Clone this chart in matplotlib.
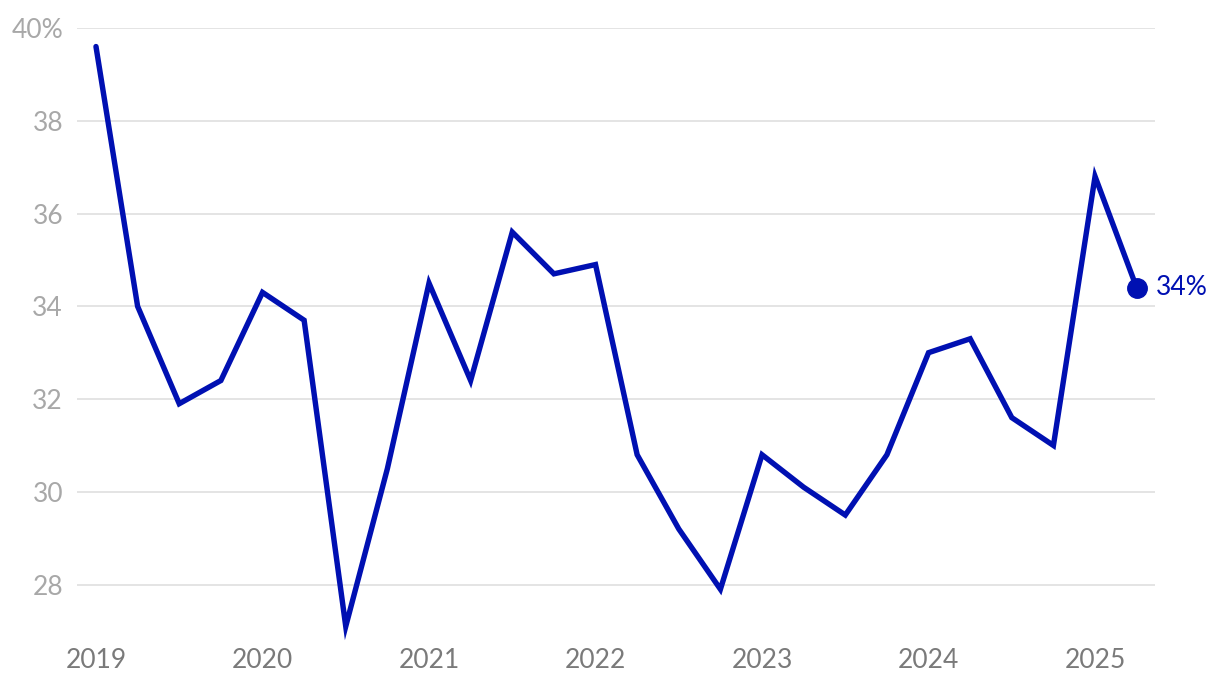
import matplotlib.pyplot as plt
from matplotlib.ticker import FuncFormatter

# quarterly values, 2019 Q1 .. 2025 Q2
years = [2019, 2020, 2021, 2022, 2023, 2024, 2025]
quarters = [2019 + i * 0.25 for i in range(26)]
values = [39.6, 34.0, 31.9, 32.4,
          34.3, 33.7, 27.1, 30.5,
          34.5, 32.4, 35.6, 34.7,
          34.9, 30.8, 29.2, 27.9,
          30.8, 30.1, 29.5, 30.8,
          33.0, 33.3, 31.6, 31.0,
          36.8, 34.4]
y_ticks = [28, 30, 32, 34, 36, 38, 40]

plt.rcParams['font.family'] = ['Lato', 'DejaVu Sans']
line_color = '#0010b2'

fig = plt.figure(figsize=(12.2, 6.84), dpi=100)
ax = fig.add_axes([77 / 1220, 1 - 631 / 684, (1155 - 77) / 1220, (631 - 28) / 684])

ax.plot(quarters, values, color=line_color, lw=3.9, solid_capstyle='round',
        solid_joinstyle='miter', zorder=3, clip_on=False)
ax.plot(quarters[-1], values[-1], 'o', color=line_color, ms=14, zorder=4, clip_on=False)
ax.annotate(f"{round(values[-1])}%", (quarters[-1], values[-1]),
            xytext=(14, 0), textcoords='offset points', va='center', ha='left',
            fontsize=19, color=line_color, annotation_clip=False)

ax.set_xlim(2018.886, 2025.36)
ax.set_ylim(27, 40)
ax.set_yticks(y_ticks)
ax.yaxis.set_major_formatter(FuncFormatter(lambda v, p: f"{v:.0f}%" if v == 40 else f"{v:.0f}"))
ax.set_xticks(years)
ax.set_xticklabels([str(y) for y in years])

ax.grid(axis='y', color='#e2e2e2', lw=1.3)
ax.set_axisbelow(True)
for s in ax.spines.values():
    s.set_visible(False)
ax.tick_params(axis='y', length=0, pad=10, labelsize=19, labelcolor='#a8a8a8')
ax.tick_params(axis='x', length=0, pad=12, labelsize=19, labelcolor='#7a7a7a')

fig.savefig('out.png', dpi=100)
